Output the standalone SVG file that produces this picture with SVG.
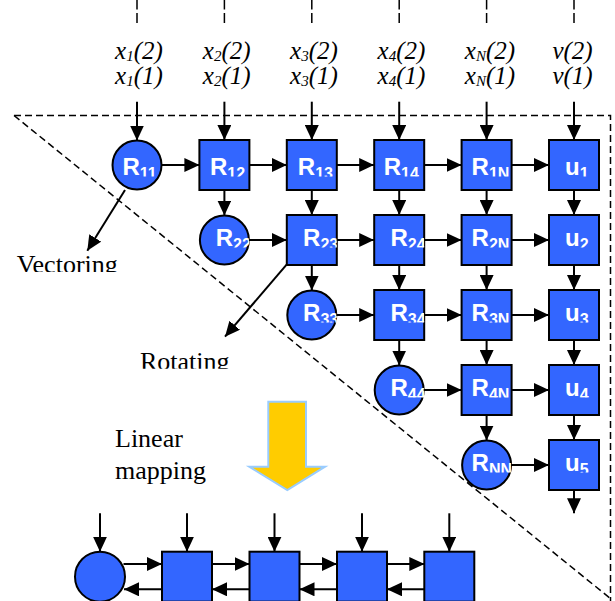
<svg xmlns="http://www.w3.org/2000/svg" width="615" height="601" viewBox="0 0 615 601">
<style>
.n{fill:#3366FF;stroke:#000;stroke-width:2}
.lb{font-family:"Liberation Sans",Arial,sans-serif;font-weight:bold;font-size:24px;fill:#fff}
.sb{font-size:16px}
.c line{stroke:#000;stroke-width:2;marker-end:url(#ah)}
.d{fill:none;stroke:#000;stroke-width:1.5;stroke-dasharray:7,4}
.t{font-family:"Liberation Serif","Times New Roman",serif;font-size:26px;fill:#000}
.in{font-family:"Liberation Serif","Times New Roman",serif;font-size:25px;font-style:italic;fill:#000;text-anchor:middle}
.is{font-size:15px}
</style>
<defs>
<marker id="ah" markerWidth="15" markerHeight="14" refX="15" refY="7" orient="auto" markerUnits="userSpaceOnUse"><path d="M0,0 L15,7 L0,14 z" fill="#000"/></marker>
<clipPath id="c1"><rect x="-30" y="-30" width="55" height="41.5"/></clipPath>
<clipPath id="c2"><rect x="-30" y="-30" width="55" height="37.5"/></clipPath>
<clipPath id="cvec"><rect x="0" y="240" width="140" height="32"/></clipPath>
<clipPath id="crot"><rect x="120" y="340" width="130" height="28.8"/></clipPath>
</defs>

<g id="frame">
<path class="d" d="M14,115.5 H610.5 V601"/>
<path class="d" d="M14,115.5 L611,599"/>
<path class="d" d="M137,23 V0 M224.4,23 V0 M311.8,23 V0 M399.2,23 V0 M486.6,23 V0 M574,23 V0" style="stroke-dasharray:10,3.5"/>
</g>

<g id="inputs">
<text class="in" x="139" y="59">x<tspan class="is" dy="2">1</tspan><tspan dy="-2">(2)</tspan></text>
<text class="in" x="139" y="84">x<tspan class="is" dy="2">1</tspan><tspan dy="-2">(1)</tspan></text>
<text class="in" x="226.7" y="59">x<tspan class="is" dy="2">2</tspan><tspan dy="-2">(2)</tspan></text>
<text class="in" x="226.7" y="84">x<tspan class="is" dy="2">2</tspan><tspan dy="-2">(1)</tspan></text>
<text class="in" x="314" y="59">x<tspan class="is" dy="2">3</tspan><tspan dy="-2">(2)</tspan></text>
<text class="in" x="314" y="84">x<tspan class="is" dy="2">3</tspan><tspan dy="-2">(1)</tspan></text>
<text class="in" x="401.5" y="59">x<tspan class="is" dy="2">4</tspan><tspan dy="-2">(2)</tspan></text>
<text class="in" x="401.5" y="84">x<tspan class="is" dy="2">4</tspan><tspan dy="-2">(1)</tspan></text>
<text class="in" x="490" y="59">x<tspan class="is" dy="2">N</tspan><tspan dy="-2">(2)</tspan></text>
<text class="in" x="490" y="84">x<tspan class="is" dy="2">N</tspan><tspan dy="-2">(1)</tspan></text>
<text class="in" x="572.5" y="59">v(2)</text>
<text class="in" x="572.5" y="84">v(1)</text>
</g>

<g id="R11" transform="translate(137,165)"><circle class="n" r="24.5"/><text class="lb" x="-14.5" y="10" clip-path="url(#c1)">R<tspan class="sb" dy="3.5">11</tspan></text></g>
<g id="R12" transform="translate(224.4,165)"><rect class="n" x="-25" y="-25" width="50" height="50"/><text class="lb" x="-14.5" y="10" clip-path="url(#c1)">R<tspan class="sb" dy="3.5">12</tspan></text></g>
<g id="R13" transform="translate(311.8,165)"><rect class="n" x="-25" y="-25" width="50" height="50"/><text class="lb" x="-14" y="10" clip-path="url(#c1)">R<tspan class="sb" dy="3.5">13</tspan></text></g>
<g id="R14" transform="translate(399.2,165)"><rect class="n" x="-25" y="-25" width="50" height="50"/><text class="lb" x="-15.5" y="10" clip-path="url(#c1)">R<tspan class="sb" dy="3.5">14</tspan></text></g>
<g id="R1N" transform="translate(486.6,165)"><rect class="n" x="-25" y="-25" width="50" height="50"/><text class="lb" x="-15" y="10" clip-path="url(#c1)">R<tspan class="sb" dy="3.5">1N</tspan></text></g>
<g id="u1" transform="translate(574,165)"><rect class="n" x="-25" y="-25" width="50" height="50"/><text class="lb" x="-9" y="10" clip-path="url(#c1)">u<tspan class="sb" dy="3.5">1</tspan></text></g>

<g id="R22" transform="translate(224.4,240)"><circle class="n" r="24.5"/><text class="lb" x="-8.7" y="6" clip-path="url(#c2)">R<tspan class="sb" dy="3.5">22</tspan></text></g>
<g id="R23" transform="translate(311.8,240)"><rect class="n" x="-25" y="-25" width="50" height="50"/><text class="lb" x="-8.7" y="6" clip-path="url(#c2)">R<tspan class="sb" dy="3.5">23</tspan></text></g>
<g id="R24" transform="translate(399.2,240)"><rect class="n" x="-25" y="-25" width="50" height="50"/><text class="lb" x="-8.7" y="6" clip-path="url(#c2)">R<tspan class="sb" dy="3.5">24</tspan></text></g>
<g id="R2N" transform="translate(486.6,240)"><rect class="n" x="-25" y="-25" width="50" height="50"/><text class="lb" x="-15" y="6" clip-path="url(#c2)">R<tspan class="sb" dy="3.5">2N</tspan></text></g>
<g id="u2" transform="translate(574,240)"><rect class="n" x="-25" y="-25" width="50" height="50"/><text class="lb" x="-9" y="6" clip-path="url(#c2)">u<tspan class="sb" dy="3.5">2</tspan></text></g>

<g id="R33" transform="translate(311.8,315)"><circle class="n" r="24.5"/><text class="lb" x="-8.7" y="6" clip-path="url(#c2)">R<tspan class="sb" dy="3.5">33</tspan></text></g>
<g id="R34" transform="translate(399.2,315)"><rect class="n" x="-25" y="-25" width="50" height="50"/><text class="lb" x="-8.7" y="6" clip-path="url(#c2)">R<tspan class="sb" dy="3.5">34</tspan></text></g>
<g id="R3N" transform="translate(486.6,315)"><rect class="n" x="-25" y="-25" width="50" height="50"/><text class="lb" x="-15" y="6" clip-path="url(#c2)">R<tspan class="sb" dy="3.5">3N</tspan></text></g>
<g id="u3" transform="translate(574,315)"><rect class="n" x="-25" y="-25" width="50" height="50"/><text class="lb" x="-9" y="6" clip-path="url(#c2)">u<tspan class="sb" dy="3.5">3</tspan></text></g>

<g id="R44" transform="translate(399.2,390)"><circle class="n" r="24.5"/><text class="lb" x="-8.7" y="6" clip-path="url(#c2)">R<tspan class="sb" dy="3.5">44</tspan></text></g>
<g id="R4N" transform="translate(486.6,390)"><rect class="n" x="-25" y="-25" width="50" height="50"/><text class="lb" x="-15" y="6" clip-path="url(#c2)">R<tspan class="sb" dy="3.5">4N</tspan></text></g>
<g id="u4" transform="translate(574,390)"><rect class="n" x="-25" y="-25" width="50" height="50"/><text class="lb" x="-9" y="6" clip-path="url(#c2)">u<tspan class="sb" dy="3.5">4</tspan></text></g>

<g id="RNN" transform="translate(486.6,465)"><circle class="n" r="24.5"/><text class="lb" x="-15" y="6" clip-path="url(#c2)">R<tspan class="sb" dy="3.5">NN</tspan></text></g>
<g id="u5" transform="translate(574,465)"><rect class="n" x="-25" y="-25" width="50" height="50"/><text class="lb" x="-9" y="6" clip-path="url(#c2)">u<tspan class="sb" dy="3.5">5</tspan></text></g>

<g id="L1"><circle class="n" cx="100" cy="576.7" r="25"/></g>
<g id="L2"><rect class="n" x="162" y="551.7" width="50" height="50"/></g>
<g id="L3"><rect class="n" x="249.5" y="551.7" width="50" height="50"/></g>
<g id="L4"><rect class="n" x="337" y="551.7" width="50" height="50"/></g>
<g id="L5"><rect class="n" x="424.3" y="551.7" width="50" height="50"/></g>

<g id="labels">
<text class="t" x="16.7" y="272.5" clip-path="url(#cvec)">Vectoring</text>
<text class="t" x="140" y="369.5" clip-path="url(#crot)">Rotating</text>
<text class="t" x="115" y="447">Linear</text>
<text class="t" x="115" y="478.5">mapping</text>
</g>

<g id="mapping-arrow"><polygon points="268.3,401.7 306,401.7 306,466.7 325,466.7 287.3,490 249.3,466.7 268.3,466.7" fill="#FFCC00" stroke="#99CCFF" stroke-width="2"/></g>

<g class="c" id="connectors">
<line x1="137" y1="101.7" x2="137" y2="140.5"/>
<line x1="224.4" y1="101.7" x2="224.4" y2="140"/>
<line x1="311.8" y1="101.7" x2="311.8" y2="140"/>
<line x1="399.2" y1="101.7" x2="399.2" y2="140"/>
<line x1="486.6" y1="101.7" x2="486.6" y2="140"/>
<line x1="574" y1="101.7" x2="574" y2="140"/>

<line x1="161.5" y1="165" x2="199.4" y2="165"/>
<line x1="249.4" y1="165" x2="286.8" y2="165"/>
<line x1="336.8" y1="165" x2="374.2" y2="165"/>
<line x1="424.2" y1="165" x2="461.6" y2="165"/>
<line x1="511.6" y1="165" x2="549" y2="165"/>

<line x1="248.9" y1="240" x2="286.8" y2="240"/>
<line x1="336.8" y1="240" x2="374.2" y2="240"/>
<line x1="424.2" y1="240" x2="461.6" y2="240"/>
<line x1="511.6" y1="240" x2="549" y2="240"/>

<line x1="336.3" y1="315" x2="374.2" y2="315"/>
<line x1="424.2" y1="315" x2="461.6" y2="315"/>
<line x1="511.6" y1="315" x2="549" y2="315"/>

<line x1="423.7" y1="390" x2="461.6" y2="390"/>
<line x1="511.6" y1="390" x2="549" y2="390"/>

<line x1="511.1" y1="465" x2="549" y2="465"/>

<line x1="224.4" y1="190" x2="224.4" y2="215.5"/>
<line x1="311.8" y1="190" x2="311.8" y2="215"/>
<line x1="311.8" y1="265" x2="311.8" y2="290.5"/>
<line x1="399.2" y1="190" x2="399.2" y2="215"/>
<line x1="399.2" y1="265" x2="399.2" y2="290"/>
<line x1="399.2" y1="340" x2="399.2" y2="365.5"/>
<line x1="486.6" y1="190" x2="486.6" y2="215"/>
<line x1="486.6" y1="265" x2="486.6" y2="290"/>
<line x1="486.6" y1="340" x2="486.6" y2="365"/>
<line x1="486.6" y1="415" x2="486.6" y2="440.5"/>
<line x1="574" y1="190" x2="574" y2="215"/>
<line x1="574" y1="265" x2="574" y2="290"/>
<line x1="574" y1="340" x2="574" y2="365"/>
<line x1="574" y1="415" x2="574" y2="440"/>
<line x1="574" y1="490" x2="574" y2="513.3"/>

<line x1="125" y1="190" x2="87.3" y2="250.7"/>
<line x1="286.8" y1="264.3" x2="225" y2="336.7"/>

<line x1="100" y1="513.3" x2="100" y2="551.7"/>
<line x1="187" y1="513.3" x2="187" y2="551.7"/>
<line x1="274.5" y1="513.3" x2="274.5" y2="551.7"/>
<line x1="362" y1="513.3" x2="362" y2="551.7"/>
<line x1="449.3" y1="513.3" x2="449.3" y2="551.7"/>

<line x1="123.5" y1="564" x2="162" y2="564"/>
<line x1="212" y1="564" x2="249.5" y2="564"/>
<line x1="299.5" y1="564" x2="337" y2="564"/>
<line x1="387" y1="564" x2="424.3" y2="564"/>

<line x1="162" y1="589.3" x2="124" y2="589.3"/>
<line x1="249.5" y1="589.3" x2="212" y2="589.3"/>
<line x1="337" y1="589.3" x2="299.5" y2="589.3"/>
<line x1="424.3" y1="589.3" x2="387" y2="589.3"/>
</g>
</svg>
